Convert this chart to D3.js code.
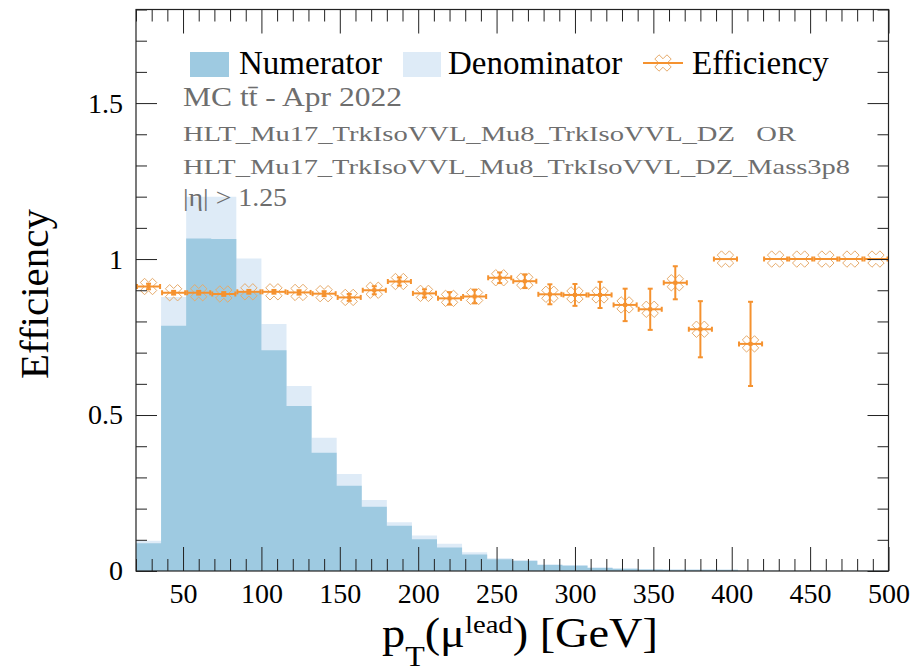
<!DOCTYPE html>
<html>
<head>
<meta charset="utf-8">
<script src="https://cdn.jsdelivr.net/npm/d3@7"></script>
<style>
  html, body { margin: 0; padding: 0; background: #fff; }
  svg { display: block; font-family: "Liberation Serif", "Times New Roman", serif; }
</style>
</head>
<body>
<svg id="chart" width="911" height="672"></svg>
<script>
// ---------------- data ----------------
const binEdges = [20, 36, 52, 68, 84, 100, 116, 132, 148, 164, 180, 196, 212, 228, 244, 260,
                  276, 292, 308, 324, 340, 356, 372, 388, 404, 420, 436, 452, 468, 484, 500];
const denominator = [0.097, 0.878, 1.200, 1.200, 1.002, 0.792, 0.593, 0.427, 0.311, 0.228,
                     0.156, 0.114, 0.087, 0.060, 0.041, 0.035, 0.022, 0.019, 0.012, 0.008,
                     0.006, 0.005, 0.005, 0.004, 0.002, 0.001, 0.001, 0.001, 0.001, 0.001];
const numerator   = [0.089, 0.786, 1.066, 1.064, 0.895, 0.708, 0.529, 0.379, 0.273, 0.206,
                     0.145, 0.102, 0.075, 0.053, 0.038, 0.032, 0.019, 0.017, 0.010, 0.007,
                     0.005, 0.004, 0.004, 0.004, 0.001, 0.001, 0.001, 0.001, 0.001, 0.001];
const efficiency  = [0.912, 0.892, 0.892, 0.888, 0.895, 0.895, 0.893, 0.889, 0.877, 0.900,
                     0.928, 0.890, 0.874, 0.880, 0.940, 0.929, 0.887, 0.885, 0.885, 0.853,
                     0.839, 0.924, 0.775, 1.000, 0.728, 1.000, 1.000, 1.000, 1.000, 1.000];
const effError    = [0.009, 0.006, 0.006, 0.006, 0.006, 0.006, 0.007, 0.008, 0.011, 0.013,
                     0.013, 0.013, 0.020, 0.022, 0.017, 0.022, 0.032, 0.035, 0.042, 0.052,
                     0.066, 0.053, 0.090, 0.000, 0.135, 0.000, 0.000, 0.000, 0.000, 0.000];
const xMajorTicks = [50, 100, 150, 200, 250, 300, 350, 400, 450, 500];
const yMajorTicks = [0, 0.5, 1, 1.5];
const yTickLabels = ["0", "0.5", "1", "1.5"];
const legendLabels = ["Numerator", "Denominator", "Efficiency"];
const infoLines = ["HLT_Mu17_TrkIsoVVL_Mu8_TrkIsoVVL_DZ   OR",
                   "HLT_Mu17_TrkIsoVVL_Mu8_TrkIsoVVL_DZ_Mass3p8"];

// ---------------- layout ----------------
const W = 911, H = 672;
const m = {left: 136, right: 22.5, top: 9.5, bottom: 101};
const iw = W - m.left - m.right, ih = H - m.top - m.bottom;
const numColor = "#9ecae1", denColor = "#deebf7";
const effColor = "#f5922f", markColor = "#e6aa6a";
const axisColor = "#222";

const svg = d3.select("#chart");
const g = svg.append("g").attr("transform", `translate(${m.left},${m.top})`);

const x = d3.scaleLinear().domain([20, 500]).range([0, iw]);
const y = d3.scaleLinear().domain([0, 1.8]).range([ih, 0]);

g.append("clipPath").attr("id", "clip").append("rect").attr("width", iw).attr("height", ih);
const plot = g.append("g").attr("clip-path", "url(#clip)");

// histograms as step areas
const bins = d3.range(denominator.length).map(i => ({
  lo: binEdges[i], hi: binEdges[i + 1], den: denominator[i], num: numerator[i],
  eff: efficiency[i], err: effError[i]
}));
function stepPath(key) {
  const pts = [];
  bins.forEach(b => { pts.push([x(b.lo), y(b[key])]); pts.push([x(b.hi), y(b[key])]); });
  return "M" + x(binEdges[0]) + "," + y(0) + "L" + pts.map(p => p.join(",")).join("L") +
         "L" + x(binEdges[binEdges.length - 1]) + "," + y(0) + "Z";
}
plot.append("path").attr("d", stepPath("den")).attr("fill", denColor);
plot.append("path").attr("d", stepPath("num")).attr("fill", numColor);

// marker shape: open X cross
function crossX(cx, cy, L, a) {
  const base = [[a, L], [a, a], [L, a], [L, -a], [a, -a], [a, -L], [-a, -L], [-a, -a],
                [-L, -a], [-L, a], [-a, a], [-a, L]];
  const c = Math.SQRT1_2;
  return "M" + base.map(([px, py]) => [cx + (px - py) * c, cy + (px + py) * c].join(",")).join("L") + "Z";
}
const MK_L = 8.6, MK_A = 3.0;

const effG = plot.append("g");
bins.forEach(b => {
  const cx = x((b.lo + b.hi) / 2), cy = y(b.eff);
  effG.append("path").attr("d", crossX(cx, cy, MK_L, MK_A))
    .attr("fill", "none").attr("stroke", markColor).attr("stroke-width", 1);
});
bins.forEach(b => {
  const cx = x((b.lo + b.hi) / 2), cy = y(b.eff);
  const x0 = x(b.lo) + 1, x1 = x(b.hi) - 1;
  const s = effG.append("g").attr("stroke", effColor).attr("stroke-width", 2).attr("fill", "none");
  s.append("line").attr("x1", x0).attr("x2", x1).attr("y1", cy).attr("y2", cy);
  s.append("line").attr("x1", x0).attr("x2", x0).attr("y1", cy - 2.5).attr("y2", cy + 2.5);
  s.append("line").attr("x1", x1).attr("x2", x1).attr("y1", cy - 2.5).attr("y2", cy + 2.5);
  if (b.err > 0) {
    const yt = y(b.eff + b.err), yb = y(b.eff - b.err);
    s.append("line").attr("x1", cx).attr("x2", cx).attr("y1", yt).attr("y2", yb);
    s.append("line").attr("x1", cx - 2.5).attr("x2", cx + 2.5).attr("y1", yt).attr("y2", yt);
    s.append("line").attr("x1", cx - 2.5).attr("x2", cx + 2.5).attr("y1", yb).attr("y2", yb);
    effG.append("rect").attr("x", cx - 2).attr("y", cy - 2).attr("width", 4).attr("height", 4)
      .attr("fill", effColor);
  }
});

// ---------------- axes ----------------
const xMinor = d3.range(20, 501, 10).filter(v => !xMajorTicks.includes(v));
const yMinor = d3.range(0, 1.81, 0.1).map(v => +v.toFixed(1)).filter(v => !yMajorTicks.includes(v));

function styleAxis(sel) {
  sel.selectAll("path.domain").remove();
  sel.selectAll("line").attr("stroke", axisColor).attr("stroke-width", 1);
  sel.selectAll("text").attr("fill", "#000").style("font-family", "Liberation Serif").style("font-size", "28px");
}

// bottom
g.append("g").attr("transform", `translate(0,${ih})`)
  .call(d3.axisBottom(x).tickValues(xMajorTicks).tickSize(-24).tickSizeOuter(0).tickPadding(12)
        .tickFormat(d3.format("d")))
  .call(styleAxis);
g.append("g").attr("transform", `translate(0,${ih})`)
  .call(d3.axisBottom(x).tickValues(xMinor).tickSize(-12).tickSizeOuter(0).tickFormat(""))
  .call(styleAxis);
// top mirror
g.append("g")
  .call(d3.axisTop(x).tickValues(xMajorTicks).tickSize(-24).tickSizeOuter(0).tickFormat(""))
  .call(styleAxis);
g.append("g")
  .call(d3.axisTop(x).tickValues(xMinor).tickSize(-12).tickSizeOuter(0).tickFormat(""))
  .call(styleAxis);
// left
g.append("g")
  .call(d3.axisLeft(y).tickValues(yMajorTicks).tickSize(-21).tickSizeOuter(0).tickPadding(13)
        .tickFormat((d, i) => yTickLabels[i]))
  .call(styleAxis);
g.append("g")
  .call(d3.axisLeft(y).tickValues(yMinor).tickSize(-11).tickSizeOuter(0).tickFormat(""))
  .call(styleAxis);
// right mirror
g.append("g").attr("transform", `translate(${iw},0)`)
  .call(d3.axisRight(y).tickValues(yMajorTicks).tickSize(-21).tickSizeOuter(0).tickFormat(""))
  .call(styleAxis);
g.append("g").attr("transform", `translate(${iw},0)`)
  .call(d3.axisRight(y).tickValues(yMinor).tickSize(-11).tickSizeOuter(0).tickFormat(""))
  .call(styleAxis);

// frame
g.append("rect").attr("width", iw).attr("height", ih)
  .attr("fill", "none").attr("stroke", axisColor).attr("stroke-width", 1.2);

// ---------------- titles ----------------
svg.append("text").attr("transform", "translate(48,294) rotate(-90)")
  .attr("text-anchor", "middle").style("font-size", "41px").attr("fill", "#000")
  .text("Efficiency");

const xt = svg.append("text").attr("x", 382).attr("y", 647).style("font-size", "42px").attr("fill", "#000")
  .attr("textLength", 276).attr("lengthAdjust", "spacingAndGlyphs");
xt.append("tspan").text("p");
xt.append("tspan").attr("dy", 19).style("font-size", "29px").text("T");
xt.append("tspan").attr("dy", -19).text("(\u03bc");
xt.append("tspan").attr("dy", -14).style("font-size", "26px").text("lead");
xt.append("tspan").attr("dy", 14).text(") [GeV]");

// ---------------- legend ----------------
svg.append("rect").attr("x", 190).attr("y", 52).attr("width", 39).attr("height", 25).attr("fill", numColor);
svg.append("text").attr("x", 239).attr("y", 74).style("font-size", "33px").text(legendLabels[0]);
svg.append("rect").attr("x", 403).attr("y", 52).attr("width", 38).attr("height", 25).attr("fill", denColor);
svg.append("text").attr("x", 448).attr("y", 74).style("font-size", "33px").text(legendLabels[1]);
svg.append("path").attr("d", crossX(663, 63, MK_L, MK_A)).attr("fill", "none")
  .attr("stroke", markColor).attr("stroke-width", 1);
svg.append("line").attr("x1", 643).attr("x2", 683).attr("y1", 63).attr("y2", 63)
  .attr("stroke", effColor).attr("stroke-width", 2);
svg.append("text").attr("x", 692).attr("y", 74).style("font-size", "33px").text(legendLabels[2]);

// ---------------- info text ----------------
const info = svg.append("g").attr("fill", "#6e6e6e");
info.append("text").attr("x", 183).attr("y", 106).style("font-size", "27px")
  .attr("textLength", 219).attr("lengthAdjust", "spacingAndGlyphs")
  .text("MC tt\u0304 - Apr 2022");
info.append("text").attr("x", 183).attr("y", 141).style("font-size", "22px").style("white-space", "pre")
  .attr("textLength", 613).attr("lengthAdjust", "spacingAndGlyphs").text(infoLines[0]);
info.append("text").attr("x", 183).attr("y", 174).style("font-size", "22px")
  .attr("textLength", 667).attr("lengthAdjust", "spacingAndGlyphs").text(infoLines[1]);
info.append("text").attr("x", 183).attr("y", 206).style("font-size", "26px")
  .attr("textLength", 104).attr("lengthAdjust", "spacingAndGlyphs")
  .text("|\u03b7| > 1.25");
</script>
</body>
</html>
